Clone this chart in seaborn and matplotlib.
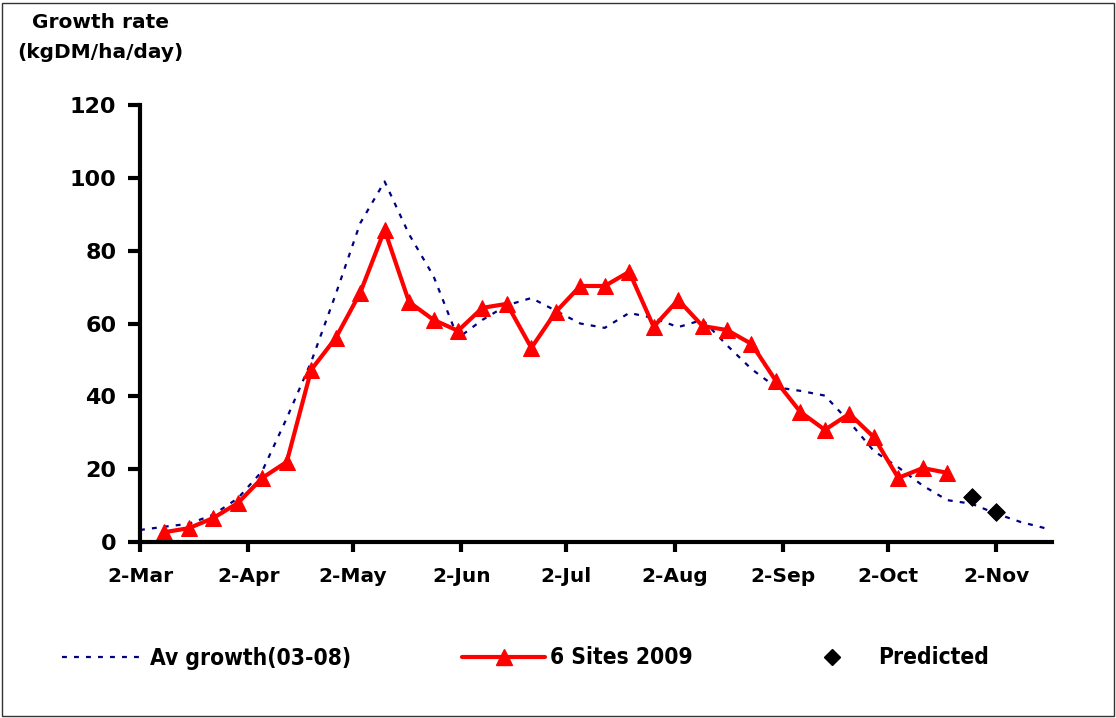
import pandas as pd
import numpy as np
import seaborn as sns
import matplotlib
matplotlib.use("Agg")
import matplotlib.pyplot as plt
from matplotlib.lines import Line2D
from matplotlib.patches import Rectangle

# ---- data ----
start = "2009-03-02"
avg_growth = [3.3, 4.2, 5.0, 7.5, 12.0, 19.5, 34.0, 49.5, 68.0, 87.5, 99.0, 84.5,
              73.0, 56.0, 61.0, 65.0, 67.0, 63.5, 60.0, 58.8, 62.9, 61.5, 59.0, 61.0,
              54.0, 47.5, 42.5, 41.5, 40.2, 33.0, 25.0, 20.5, 15.5, 11.5, 10.5, 7.8,
              5.5, 3.8]
sites_2009 = [2.7, 3.8, 6.6, 10.7, 17.6, 22.0, 47.3, 56.0, 68.4, 85.7, 65.9, 61.0,
              58.0, 64.3, 65.4, 53.3, 63.2, 70.3, 70.3, 74.2, 59.1, 66.5, 59.3, 58.2,
              54.4, 44.2, 35.7, 30.8, 35.2, 28.8, 17.6, 20.3, 19.0]
predicted = [12.4, 8.2]
tick_dates = ["2009-03-02", "2009-04-02", "2009-05-02", "2009-06-02", "2009-07-02",
              "2009-08-02", "2009-09-02", "2009-10-02", "2009-11-02"]
tick_labels = ["2-Mar", "2-Apr", "2-May", "2-Jun", "2-Jul", "2-Aug", "2-Sep", "2-Oct", "2-Nov"]
y_ticks = [0, 20, 40, 60, 80, 100, 120]

weeks_avg = pd.date_range(start, periods=len(avg_growth), freq="7D")
weeks_sites = weeks_avg[1:1 + len(sites_2009)]
weeks_pred = weeks_avg[1 + len(sites_2009):1 + len(sites_2009) + len(predicted)]

df_avg = pd.DataFrame({"date": weeks_avg, "rate": avg_growth})
df_sites = pd.DataFrame({"date": weeks_sites, "rate": sites_2009})
df_pred = pd.DataFrame({"date": weeks_pred, "rate": predicted})

sns.set_theme(style="white")
plt.rcParams["font.family"] = ["DejaVu Sans"]
plt.rcParams["text.color"] = "black"
plt.rcParams["xtick.color"] = "black"
plt.rcParams["ytick.color"] = "black"

fig = plt.figure(figsize=(11.16, 7.18), dpi=100)
ax = fig.add_axes([140 / 1116, 1 - 542 / 718, (1052 - 140) / 1116, (542 - 105) / 718])

navy = "#000080"
red = "#FF0000"
sns.lineplot(data=df_avg, x="date", y="rate", ax=ax, color=navy, linewidth=1.6,
             linestyle=(0, (2.2, 3.2)), label="_nolegend_")
sns.lineplot(data=df_sites, x="date", y="rate", ax=ax, color=red, linewidth=3.0,
             marker="^", markersize=11, markeredgecolor=red, label="_nolegend_")
sns.scatterplot(data=df_pred, x="date", y="rate", ax=ax, color="black", marker="D",
                s=80, edgecolor="black", label="_nolegend_", zorder=5)

ax.set_xlim(pd.Timestamp("2009-03-02"), pd.Timestamp("2009-11-18"))
ax.set_ylim(0, 120)
ax.set_xticks(pd.to_datetime(tick_dates))
ax.set_xticklabels(tick_labels, fontsize=14.5, fontweight="bold", color="black")
ax.set_yticks(y_ticks)
ax.set_yticklabels([str(v) for v in y_ticks], fontsize=16, fontweight="bold", color="black")
ax.set_xlabel("")
ax.set_ylabel("")
for s in ["top", "right"]:
    ax.spines[s].set_visible(False)
for s in ["left", "bottom"]:
    ax.spines[s].set_linewidth(3)
    ax.spines[s].set_color("black")
ax.tick_params(axis="y", direction="out", length=9, width=3, color="black", pad=8, left=True)
ax.tick_params(axis="x", direction="out", length=7, width=3, color="black", pad=11, bottom=True)
ax.grid(False)

fig.text(100 / 1116, 1 - 22 / 718, "Growth rate", ha="center", va="center",
         fontsize=14.5, fontweight="bold", color="black")
fig.text(100 / 1116, 1 - 52 / 718, "(kgDM/ha/day)", ha="center", va="center",
         fontsize=14.5, fontweight="bold", color="black")

# legend entries
h1 = Line2D([], [], color=navy, linewidth=1.6, linestyle=(0, (2.2, 3.2)))
h2 = Line2D([], [], color=red, linewidth=3.0, marker="^", markersize=11)
h3 = Line2D([], [], color="none", marker="D", markersize=8, markerfacecolor="black",
            markeredgecolor="black")
for h, lab, x0 in [(h1, "Av growth(03-08)", 62), (h2, "6 Sites 2009", 462), (h3, "Predicted", 790)]:
    fig.legend(handles=[h], labels=[lab], loc="center left",
               bbox_to_anchor=(x0 / 1116, 1 - 658 / 718), frameon=False,
               prop={"weight": "bold", "size": 16.3, "stretch": "condensed"},
               labelcolor="black",
               handlelength=3.67, handletextpad=0.22, borderaxespad=0, borderpad=0)

fig.patches.append(Rectangle((2 / 1116, 2 / 718), 1 - 4 / 1116, 1 - 5 / 718,
                             transform=fig.transFigure, fill=False, edgecolor="#333333",
                             linewidth=1))

fig.savefig("out.png", dpi=100)
